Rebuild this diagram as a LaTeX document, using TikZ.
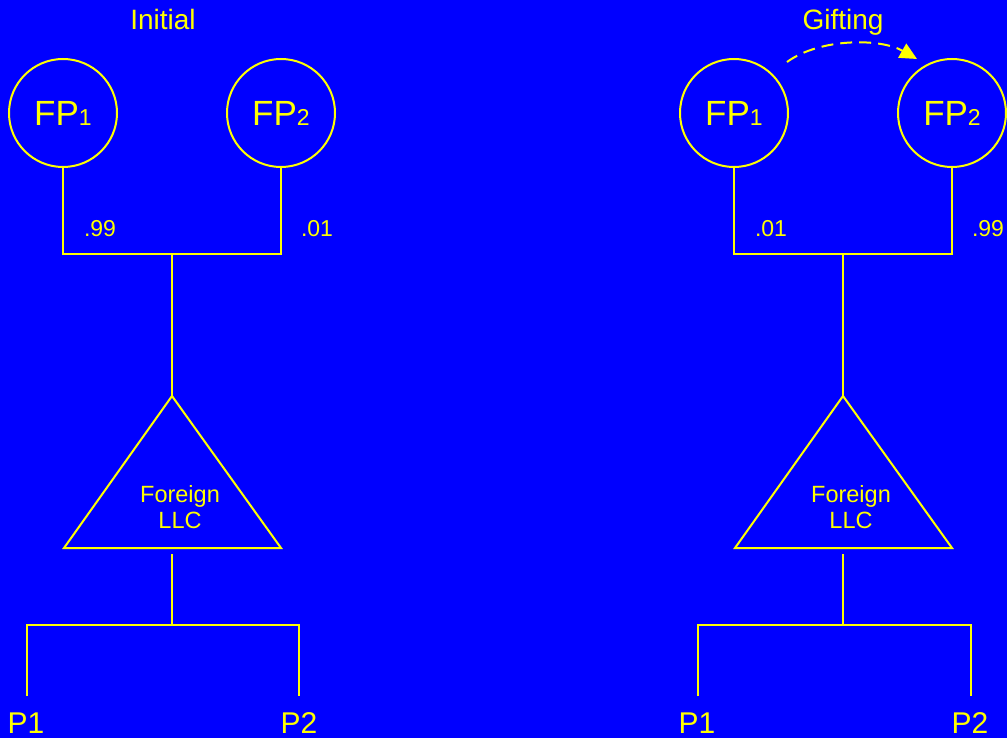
\documentclass[tikz,border=0pt]{standalone}
\usepackage{fontspec}
\setmainfont{Liberation Sans}
\usetikzlibrary{arrows.meta}
\definecolor{bgblue}{RGB}{0,0,255}
\definecolor{fgyellow}{RGB}{255,255,0}
\newcommand\subdigit[1]{{\fontsize{23}{23}\selectfont #1}}
\begin{document}
\begin{tikzpicture}[x=1pt,y=-1pt,
  owner/.style={circle, draw=fgyellow, line width=2pt, minimum size=108pt, inner sep=0pt, text=fgyellow, font=\fontsize{35}{35}\selectfont},
  pct/.style={text=fgyellow, font=\fontsize{23}{23}\selectfont},
  title/.style={text=fgyellow, anchor=base, inner sep=0pt, font=\fontsize{28}{28}\selectfont},
  llc/.style={text=fgyellow, align=center, font=\fontsize{23.5}{26.6}\selectfont},
  partner/.style={text=fgyellow, anchor=base, inner sep=0pt, font=\fontsize{30}{30}\selectfont},
  wire/.style={draw=fgyellow, line width=2pt},
  gift/.style={draw=fgyellow, line width=2pt, dash pattern=on 12pt off 7pt, -{Triangle[length=17pt,width=16pt,fill=fgyellow]}}]
\fill[bgblue] (0,0) rectangle (1007,738);
\useasboundingbox (0,0) rectangle (1007,738);

% ---------- left: Initial ----------
\node[title] (Ltitle) at (163,29.5) {Initial};
\node[owner] (L1) at (63,113) {FP\subdigit{1}};
\node[owner] (L2) at (281,113) {FP\subdigit{2}};
\coordinate (L1j) at (63,254);
\coordinate (L2j) at (281,254);
\coordinate (Lj) at (172,254);
\coordinate (Lapex) at (172,396);
\coordinate (Lbl) at (64,548);
\coordinate (Lbr) at (281,548);
\draw[wire] (L1.south) -- (L1j) -- (L2j) -- (L2.south);
\draw[wire] (Lj) -- (Lapex);
\draw[wire, line join=miter] (Lapex) -- (Lbl) -- (Lbr) -- cycle;
\node[pct] (Lp1) at (100,229) {.99};
\node[pct] (Lp2) at (317,229) {.01};
\node[llc] (Lllc) at (180,507) {Foreign\\LLC};
\coordinate (Lb) at (172,554);
\coordinate (Lbj) at (172,625);
\coordinate (Lq1j) at (27,625);
\coordinate (Lq2j) at (299,625);
\coordinate (Lq1e) at (27,696);
\coordinate (Lq2e) at (299,696);
\draw[wire] (Lb) -- (Lbj);
\draw[wire] (Lq1e) -- (Lq1j) -- (Lq2j) -- (Lq2e);
\node[partner] (LP1) at (26,733) {P1};
\node[partner] (LP2) at (299,733) {P2};

% ---------- right: Gifting ----------
\node[title] (Rtitle) at (843,29.5) {Gifting};
\node[owner] (R1) at (734,113) {FP\subdigit{1}};
\node[owner] (R2) at (952,113) {FP\subdigit{2}};
\coordinate (R1j) at (734,254);
\coordinate (R2j) at (952,254);
\coordinate (Rj) at (843,254);
\coordinate (Rapex) at (843,396);
\coordinate (Rbl) at (735,548);
\coordinate (Rbr) at (952,548);
\draw[wire] (R1.south) -- (R1j) -- (R2j) -- (R2.south);
\draw[wire] (Rj) -- (Rapex);
\draw[wire, line join=miter] (Rapex) -- (Rbl) -- (Rbr) -- cycle;
\node[pct] (Rp1) at (771,229) {.01};
\node[pct] (Rp2) at (988,229) {.99};
\node[llc] (Rllc) at (851,507) {Foreign\\LLC};
\coordinate (Rb) at (843,554);
\coordinate (Rbj) at (843,625);
\coordinate (Rq1j) at (698,625);
\coordinate (Rq2j) at (971,625);
\coordinate (Rq1e) at (698,696);
\coordinate (Rq2e) at (971,696);
\draw[wire] (Rb) -- (Rbj);
\draw[wire] (Rq1e) -- (Rq1j) -- (Rq2j) -- (Rq2e);
\node[partner] (RP1) at (697,733) {P1};
\node[partner] (RP2) at (970,733) {P2};

\coordinate (Gs) at (787,62);
\coordinate (Ge) at (917,59);
\draw[gift] (Gs) .. controls (820,38) and (880,38) .. (Ge);
\end{tikzpicture}
\end{document}
